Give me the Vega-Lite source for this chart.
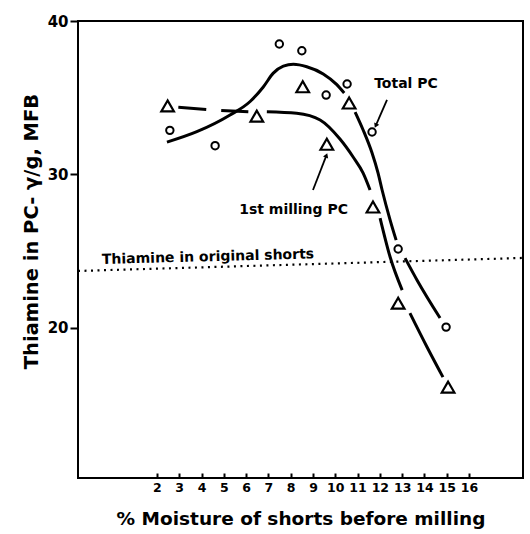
{
  "$schema": "https://vega.github.io/schema/vega-lite/v6.json",
  "width": 445,
  "height": 457,
  "autosize": "none",
  "padding": {"left": 78, "top": 21, "right": 7, "bottom": 56},
  "background": "white",
  "config": {
    "view": {"stroke": "black", "strokeWidth": 2},
    "font": "DejaVu Sans",
    "axis": {"grid": false, "domain": false, "ticks": true, "tickColor": "black", "labelColor": "black", "titleColor": "black", "labelFont": "DejaVu Sans", "titleFont": "DejaVu Sans"}
  },
  "datasets": {
    "curves": [
      {"seg": "totalA", "x": 2.45, "y": 32.1},
      {"seg": "totalA", "x": 3.79, "y": 32.78},
      {"seg": "totalA", "x": 5.28, "y": 33.87},
      {"seg": "totalA", "x": 6.18, "y": 34.75},
      {"seg": "totalA", "x": 6.77, "y": 35.7},
      {"seg": "totalA", "x": 7.22, "y": 36.6},
      {"seg": "totalA", "x": 7.67, "y": 37.06},
      {"seg": "totalA", "x": 8.12, "y": 37.18},
      {"seg": "totalA", "x": 8.72, "y": 37.02},
      {"seg": "totalA", "x": 9.46, "y": 36.55},
      {"seg": "totalA", "x": 10.07, "y": 35.85},
      {"seg": "totalA", "x": 10.4, "y": 35.3},
      {"seg": "totalB", "x": 10.89, "y": 34.06},
      {"seg": "totalB", "x": 11.25, "y": 32.89},
      {"seg": "totalB", "x": 11.65, "y": 31.39},
      {"seg": "totalB", "x": 11.92, "y": 30.08},
      {"seg": "totalB", "x": 12.1, "y": 28.98},
      {"seg": "totalB", "x": 12.46, "y": 27.02},
      {"seg": "totalB", "x": 12.73, "y": 25.71},
      {"seg": "totalC", "x": 13.13, "y": 24.54},
      {"seg": "totalC", "x": 13.67, "y": 23.1},
      {"seg": "totalC", "x": 14.7, "y": 20.63},
      {"seg": "dash", "x": 2.96, "y": 34.37},
      {"seg": "dash", "x": 4.5, "y": 34.2},
      {"seg": "dash", "x": 6.1, "y": 34.08},
      {"seg": "firstD", "x": 6.93, "y": 34.08},
      {"seg": "firstD", "x": 8.27, "y": 33.98},
      {"seg": "firstD", "x": 9.32, "y": 33.54},
      {"seg": "firstD", "x": 10.21, "y": 32.3},
      {"seg": "firstD", "x": 10.8, "y": 31.13},
      {"seg": "firstD", "x": 11.25, "y": 30.08},
      {"seg": "firstD", "x": 11.56, "y": 28.98},
      {"seg": "firstE", "x": 12.01, "y": 27.15},
      {"seg": "firstE", "x": 12.46, "y": 24.61},
      {"seg": "firstE", "x": 13.0, "y": 22.45},
      {"seg": "firstF", "x": 13.35, "y": 20.95},
      {"seg": "firstF", "x": 14.12, "y": 18.73},
      {"seg": "firstF", "x": 14.83, "y": 16.78}
    ],
    "points": [
      {"series": "Total PC", "x": 2.58, "y": 32.87},
      {"series": "Total PC", "x": 4.61, "y": 31.87},
      {"series": "Total PC", "x": 7.49, "y": 38.5},
      {"series": "Total PC", "x": 8.5, "y": 38.06},
      {"series": "Total PC", "x": 9.59, "y": 35.17},
      {"series": "Total PC", "x": 10.53, "y": 35.89},
      {"series": "Total PC", "x": 11.65, "y": 32.76},
      {"series": "Total PC", "x": 12.82, "y": 25.13},
      {"series": "Total PC", "x": 14.97, "y": 20.04},
      {"series": "1st milling PC", "x": 2.48, "y": 34.46},
      {"series": "1st milling PC", "x": 6.48, "y": 33.8},
      {"series": "1st milling PC", "x": 8.54, "y": 35.71},
      {"series": "1st milling PC", "x": 9.62, "y": 31.96},
      {"series": "1st milling PC", "x": 10.62, "y": 34.65},
      {"series": "1st milling PC", "x": 11.69, "y": 27.87},
      {"series": "1st milling PC", "x": 12.82, "y": 21.6},
      {"series": "1st milling PC", "x": 15.06, "y": 16.13}
    ],
    "labels": [
      {"label": "Total PC", "x": 13.17, "y": 35.89},
      {"label": "1st milling PC", "x": 8.13, "y": 27.7}
    ],
    "notes": [
      {"label": "Thiamine in original shorts", "x": 4.29, "y": 24.6}
    ],
    "arrows": [
      {"arrow": "total", "x": 12.32, "y": 34.85, "x2": 11.83, "y2": 33.22},
      {"arrow": "first", "x": 9.0, "y": 28.98, "x2": 9.59, "y2": 31.19}
    ],
    "ref": [{"x": -1.54, "y": 23.7, "x2": 18.42, "y2": 24.55}]
  },
  "encoding": {
    "x": {"field": "x", "type": "quantitative",
      "scale": {"domain": [-1.54, 18.42], "nice": false, "zero": false},
      "axis": {"values": [2, 3, 4, 5, 6, 7, 8, 9, 10, 11, 12, 13, 14, 15, 16], "offset": -5, "tickSize": 5, "tickWidth": 2, "labelPadding": 3, "labelOverlap": false, "labelSeparation": 0, "labelFontSize": 12.5, "labelFontWeight": "bold", "title": "% Moisture of shorts before milling", "titleFontSize": 18.5, "titleFontWeight": "bold", "titlePadding": 16}},
    "y": {"field": "y", "type": "quantitative",
      "scale": {"domain": [10.2, 40], "nice": false, "zero": false},
      "axis": {"values": [20, 30, 40], "tickSize": 8, "tickWidth": 2, "labelPadding": 2, "labelFontSize": 15, "labelFontWeight": "bold", "title": "Thiamine in PC- γ/g, MFB", "titleFontSize": 19.5, "titleFontWeight": "bold", "titlePadding": 6, "titleY": 210}}
  },
  "layer": [
    {
      "data": {"name": "ref"},
      "mark": {"type": "rule", "strokeDash": [2, 4.5], "strokeWidth": 2.2, "color": "black", "clip": true},
      "encoding": {
        "x2": {"field": "x2"},
        "y2": {"field": "y2"}
      }
    },
    {
      "data": {"name": "curves"},
      "transform": [{"filter": "datum.seg !== 'dash'"}],
      "mark": {"type": "line", "interpolate": "monotone", "strokeWidth": 3, "color": "black"},
      "encoding": {
        "detail": {"field": "seg"}
      }
    },
    {
      "data": {"name": "curves"},
      "transform": [{"filter": "datum.seg === 'dash'"}],
      "mark": {"type": "line", "strokeWidth": 3, "color": "black", "strokeDash": [28, 15]},
      "encoding": {}
    },
    {
      "data": {"name": "points"},
      "transform": [{"filter": "datum.series === 'Total PC'"}],
      "mark": {"type": "point", "shape": "circle", "filled": true, "fill": "white", "stroke": "black", "strokeWidth": 2, "size": 55, "opacity": 1},
      "encoding": {}
    },
    {
      "data": {"name": "points"},
      "transform": [{"filter": "datum.series === '1st milling PC'"}],
      "mark": {"type": "point", "shape": "triangle-up", "filled": true, "fill": "white", "stroke": "black", "strokeWidth": 2.2, "size": 160, "opacity": 1},
      "encoding": {}
    },
    {
      "data": {"name": "arrows"},
      "mark": {"type": "rule", "strokeWidth": 1.8, "color": "black"},
      "encoding": {
        "x2": {"field": "x2"},
        "y2": {"field": "y2"}
      }
    },
    {
      "data": {"name": "arrows"},
      "transform": [{"filter": "datum.arrow === 'total'"}],
      "mark": {"type": "point", "shape": "triangle", "filled": true, "color": "black", "size": 30, "angle": 204, "opacity": 1},
      "encoding": {
        "x": {"field": "x2", "type": "quantitative"},
        "y": {"field": "y2", "type": "quantitative"}
      }
    },
    {
      "data": {"name": "arrows"},
      "transform": [{"filter": "datum.arrow === 'first'"}],
      "mark": {"type": "point", "shape": "triangle", "filled": true, "color": "black", "size": 30, "angle": 21, "opacity": 1},
      "encoding": {
        "x": {"field": "x2", "type": "quantitative"},
        "y": {"field": "y2", "type": "quantitative"}
      }
    },
    {
      "data": {"name": "labels"},
      "mark": {"type": "text", "font": "DejaVu Sans", "fontWeight": "bold", "fontSize": 14, "color": "black", "align": "center", "baseline": "middle"},
      "encoding": {
        "text": {"field": "label"}
      }
    },
    {
      "data": {"name": "notes"},
      "mark": {"type": "text", "font": "DejaVu Sans", "fontWeight": "bold", "fontSize": 14, "color": "black", "align": "center", "baseline": "middle", "angle": 358.5},
      "encoding": {
        "text": {"field": "label"}
      }
    }
  ]
}
